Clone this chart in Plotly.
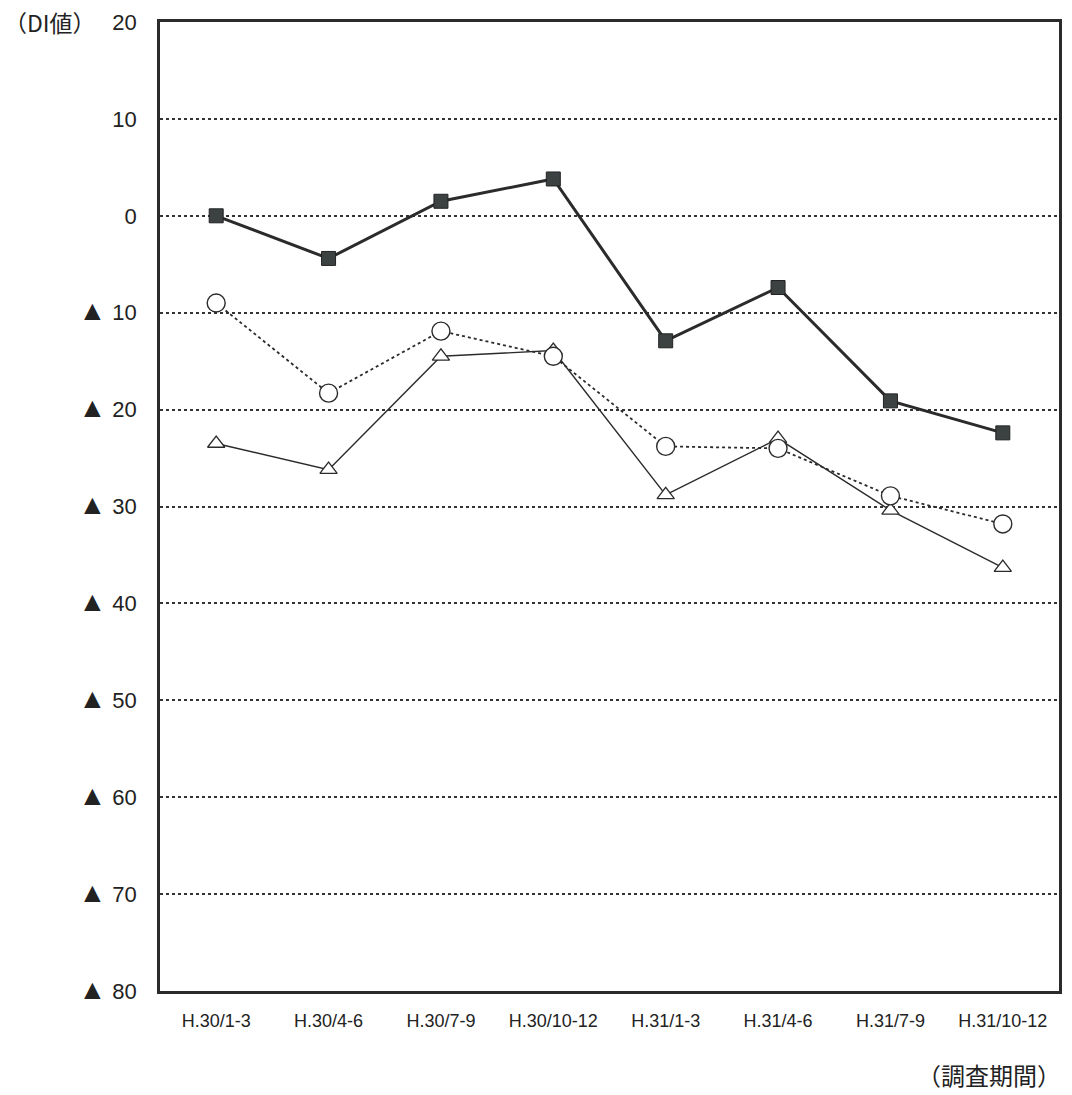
import plotly.graph_objects as go

# Survey periods and DI values for the three indicators
periods = ["H.30/1-3", "H.30/4-6", "H.30/7-9", "H.30/10-12",
           "H.31/1-3", "H.31/4-6", "H.31/7-9", "H.31/10-12"]
series_square = [0.0, -4.4, 1.5, 3.8, -12.9, -7.4, -19.1, -22.4]
series_circle = [-9.0, -18.3, -11.9, -14.5, -23.8, -24.0, -28.9, -31.8]
series_triangle = [-23.5, -26.2, -14.5, -13.9, -28.8, -23.0, -30.4, -36.3]

tick_vals = [20, 10, 0, -10, -20, -30, -40, -50, -60, -70, -80]
tick_text = ["20", "10", "0", "▲ 10", "▲ 20", "▲ 30", "▲ 40",
             "▲ 50", "▲ 60", "▲ 70", "▲ 80"]

# negative values carry a larger black triangle in front of the number
tri = '<span style="font-size:28px">▲</span>'
tick_html = [t.replace("▲", tri) for t in tick_text]

ink = "#2b2b2b"
fig = go.Figure()

fig.add_trace(go.Scatter(
    x=periods, y=series_triangle, mode="lines+markers",
    line=dict(color=ink, width=1.4),
    marker=dict(symbol="triangle-up", size=15, color="white",
                line=dict(color=ink, width=1.3)),
    showlegend=False))

fig.add_trace(go.Scatter(
    x=periods, y=series_circle, mode="lines+markers",
    line=dict(color=ink, width=1.8, dash="dot"),
    marker=dict(symbol="circle", size=18, color="white",
                line=dict(color=ink, width=1.4)),
    showlegend=False))

fig.add_trace(go.Scatter(
    x=periods, y=series_square, mode="lines+markers",
    line=dict(color=ink, width=3),
    marker=dict(symbol="square", size=14, color="#3c4242",
                line=dict(color="#222", width=1)),
    showlegend=False))

font_jp = "Noto Sans CJK JP"

fig.update_layout(
    width=1072, height=1095,
    margin=dict(l=160, r=10, t=18, b=104),
    plot_bgcolor="white", paper_bgcolor="white",
    font=dict(family=font_jp, color="#222"),
    xaxis=dict(
        type="category", range=[-0.5, 7.5],
        showgrid=False, showline=True, linecolor=ink, linewidth=2.5,
        mirror=True, ticks="", tickfont=dict(size=18, family="Liberation Sans"),
        ticklabelstandoff=12,
    ),
    yaxis=dict(
        range=[-80, 20], tickvals=tick_vals, ticktext=tick_html,
        showgrid=True, gridcolor="#333", gridwidth=1.5, griddash="dot",
        zeroline=False, showline=True, linecolor=ink, linewidth=2.5,
        mirror=True, ticks="", tickfont=dict(size=22, family="Liberation Sans"),
        ticklabelstandoff=16,
    ),
    annotations=[
        dict(text="（DI値）", x=0, y=20, xref="paper", yref="y",
             xanchor="left", yanchor="middle", xshift=-158,
             showarrow=False, font=dict(size=23, family=font_jp)),
        dict(text="（調査期間）", x=1, y=0, xref="paper", yref="paper",
             xanchor="right", yanchor="top", yshift=-64, xshift=4,
             showarrow=False, font=dict(size=24, family=font_jp)),
    ],
)

fig.write_html("out.html")
